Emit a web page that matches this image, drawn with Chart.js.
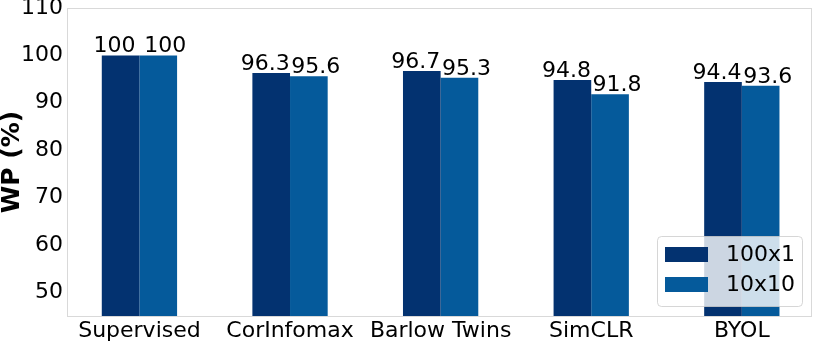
<!DOCTYPE html>
<html>
<head>
<meta charset="utf-8">
<script src="https://cdn.jsdelivr.net/npm/chart.js@4"></script>
<style>
  html, body { margin: 0; padding: 0; background: #fff; }
  #wrap { width: 814px; height: 344px; }
</style>
</head>
<body>
<div id="wrap"><canvas id="myChart" width="814" height="344"></canvas></div>
<script>
// Dữ liệu
var categories = ["Supervised", "CorInfomax", "Barlow Twins", "SimCLR", "BYOL"];
var wp100x1 = [100, 96.3, 96.7, 94.8, 94.4];
var wp10x10 = [100, 95.6, 95.3, 91.8, 93.6];
var yTicks = [50, 60, 70, 80, 90, 100, 110];

var FONT = "'DejaVu Sans', sans-serif";

function toPoints(values) {
    return values.map(function (v, i) { return { x: i, y: v }; });
}

// nhãn giá trị trên cột (cột trái lệch trái, cột phải lệch phải)
var labelShift = [-6, 7];
var valueLabels = {
    id: 'valueLabels',
    afterDatasetsDraw: function (chart) {
        var ctx = chart.ctx;
        ctx.save();
        ctx.font = '22px ' + FONT;
        ctx.fillStyle = '#000';
        ctx.textAlign = 'center';
        ctx.textBaseline = 'alphabetic';
        chart.data.datasets.forEach(function (ds, i) {
            chart.getDatasetMeta(i).data.forEach(function (bar, j) {
                ctx.fillText(String(ds.data[j].y), bar.x + labelShift[i], bar.y - 3);
            });
        });
        ctx.restore();
    }
};

// khung + chú thích
var frameLegend = {
    id: 'frameLegend',
    afterDraw: function (chart) {
        var ctx = chart.ctx, a = chart.chartArea;
        ctx.save();
        ctx.strokeStyle = '#d9d9d9';
        ctx.lineWidth = 1;
        ctx.strokeRect(a.left + 0.5, a.top + 0.5, a.right - a.left - 1, a.bottom - a.top);

        var x = 657, y = 236, w = 145, h = 70;
        ctx.beginPath();
        ctx.roundRect(x + 0.5, y + 0.5, w, h, 4);
        ctx.fillStyle = 'rgba(255,255,255,0.8)';
        ctx.fill();
        ctx.strokeStyle = 'rgba(204,204,204,0.8)';
        ctx.stroke();

        ctx.font = '22px ' + FONT;
        ctx.textBaseline = 'middle';
        ctx.textAlign = 'left';
        chart.data.datasets.forEach(function (ds, i) {
            var cy = 254 + i * 30;
            ctx.fillStyle = ds.backgroundColor;
            ctx.fillRect(665, cy - 7, 43, 15);
            ctx.fillStyle = '#000';
            ctx.fillText(ds.label, 726, cy + 1);
        });
        ctx.restore();
    }
};

var ctx = document.getElementById('myChart').getContext('2d');
var myChart = new Chart(ctx, {
    type: 'bar',
    data: {
        datasets: [{
            label: '100x1',
            data: toPoints(wp100x1),
            backgroundColor: '#033270',
            borderWidth: 0
        }, {
            label: '10x10',
            data: toPoints(wp10x10),
            backgroundColor: '#055a9b',
            borderWidth: 0
        }]
    },
    options: {
        responsive: false,
        animation: false,
        layout: { padding: { top: 8, right: 2, left: 0, bottom: 0 } },
        categoryPercentage: 0.5,
        barPercentage: 1.0,
        plugins: {
            legend: { display: false },
            tooltip: { enabled: false }
        },
        scales: {
            x: {
                type: 'linear',
                min: -0.481,
                max: 4.466,
                offset: false,
                grid: { display: false, drawTicks: false },
                border: { display: false },
                afterBuildTicks: function (s) {
                    s.ticks = categories.map(function (c, i) { return { value: i }; });
                },
                ticks: {
                    color: '#000',
                    font: { family: FONT, size: 22 },
                    padding: 2,
                    maxRotation: 0,
                    autoSkip: false,
                    callback: function (v) { return categories[v]; }
                },
                afterFit: function (s) { s.height = 28; s.paddingLeft = 0; s.paddingRight = 0; }
            },
            y: {
                min: 45,
                max: 110,
                grid: { display: false, drawTicks: false },
                border: { display: false },
                afterBuildTicks: function (s) {
                    s.ticks = yTicks.map(function (v) { return { value: v }; });
                },
                ticks: { color: '#000', font: { family: FONT, size: 22 }, padding: 4 },
                title: {
                    display: true,
                    text: 'WP (%)',
                    color: '#000',
                    font: { family: FONT, size: 25, weight: 'bold', lineHeight: 1.0 },
                    padding: { top: 0, bottom: 0 }
                },
                afterFit: function (s) { s.width = 67; s.paddingTop = 0; s.paddingBottom = 0; }
            }
        }
    },
    plugins: [valueLabels, frameLegend]
});
</script>
</body>
</html>
